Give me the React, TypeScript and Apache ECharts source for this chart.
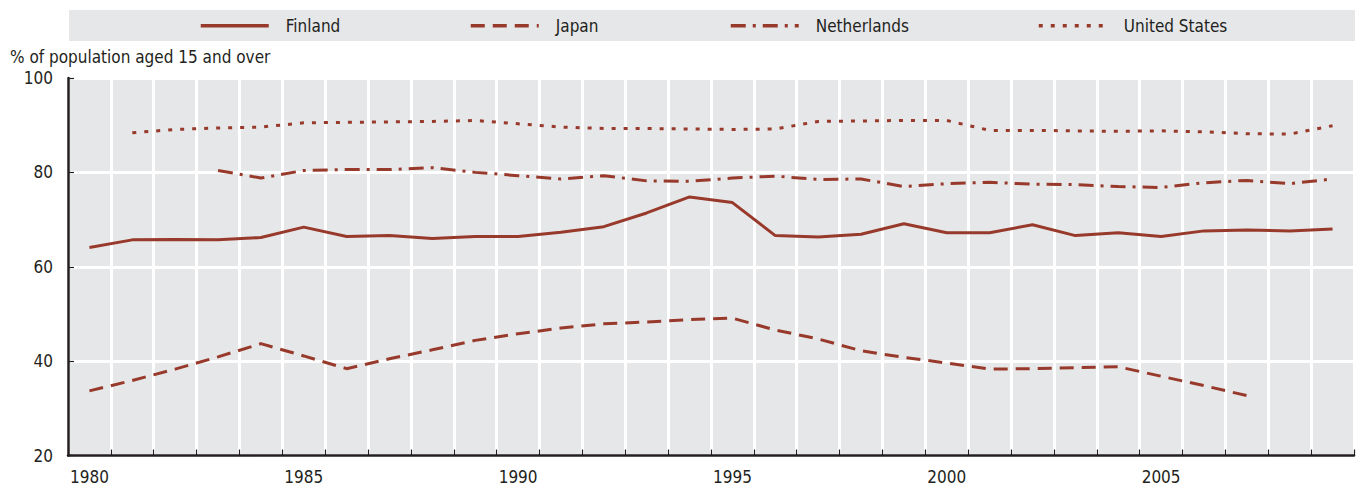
import React, { useEffect, useRef } from "react";
import * as echarts from "echarts";

const years = [
  "1980", "1981", "1982", "1983", "1984", "1985", "1986", "1987", "1988", "1989",
  "1990", "1991", "1992", "1993", "1994", "1995", "1996", "1997", "1998", "1999",
  "2000", "2001", "2002", "2003", "2004", "2005", "2006", "2007", "2008", "2009",
];

const finland = [
  64.1, 65.7, 65.8, 65.7, 66.2, 68.4, 66.4, 66.6, 66.0, 66.4,
  66.4, 67.3, 68.5, 71.4, 74.8, 73.6, 66.6, 66.3, 66.9, 69.1,
  67.2, 67.2, 68.9, 66.6, 67.2, 66.4, 67.6, 67.8, 67.6, 68.0,
];
const japan = [
  33.7, 35.9, 38.3, 40.9, 43.7, 41.1, 38.4, 40.5, 42.4, 44.4,
  45.8, 47.0, 47.9, 48.3, 48.8, 49.1, 46.6, 44.7, 42.2, 40.8,
  39.6, 38.3, 38.4, 38.6, 38.8, 36.8, 34.8, 32.7, null, null,
];
const netherlands = [
  null, null, null, 80.4, 78.8, 80.4, 80.6, 80.6, 81.0, 80.0,
  79.3, 78.6, 79.3, 78.2, 78.1, 78.8, 79.2, 78.5, 78.6, 77.0,
  77.6, 77.9, 77.5, 77.4, 77.0, 76.8, 77.8, 78.3, 77.6, 78.6,
];
const unitedStates = [
  null, 88.4, 89.1, 89.4, 89.6, 90.5, 90.6, 90.7, 90.8, 91.0,
  90.3, 89.6, 89.3, 89.3, 89.2, 89.1, 89.2, 90.8, 90.9, 91.0,
  91.0, 88.9, 88.9, 88.8, 88.7, 88.8, 88.6, 88.2, 88.1, 89.9,
];

const yTicks = [20, 40, 60, 80, 100];
const yTitle = "% of population aged 15 and over";

const FONT = "'Liberation Sans Narrow', 'DejaVu Sans Condensed', 'Liberation Sans', sans-serif";
const LINE = "#983a2b";
const TEXT = "#231f20";
const BG = "#e6e7e9";
const FS = 17;

export default function App() {
  const ref = useRef<HTMLDivElement>(null);
  useEffect(() => {
    if (!ref.current) return;
    const chart = echarts.init(ref.current, undefined, { renderer: "svg" });
    const mkSeries = (name: string, data: (number | null)[], type: any) => ({
      name,
      type: "line",
      data,
      symbol: "none",
      showSymbol: false,
      connectNulls: false,
      lineStyle: { color: LINE, width: 3, type, cap: "butt" },
      itemStyle: { color: LINE },
      z: 3,
    });
    const legendAt = (name: string, left: number) => ({
      data: [name],
      left,
      top: 17,
      itemWidth: 68,
      itemHeight: 22,
      itemGap: 0,
      padding: 0,
      selectedMode: false,
      itemStyle: { opacity: 0 },
      lineStyle: { width: 3.5 },
      textStyle: { fontFamily: FONT, fontSize: FS, color: TEXT, padding: [0, 0, 0, 12] },
    });
    chart.setOption({
      animation: false,
      backgroundColor: "#ffffff",
      textStyle: { fontFamily: FONT },
      graphic: [
        {
          type: "rect",
          z: -10,
          shape: { x: 69, y: 10, width: 1286, height: 31 },
          style: { fill: BG },
          silent: true,
        },
        {
          type: "text",
          left: 10,
          top: 48,
          style: { text: yTitle, fontFamily: FONT, fontSize: FS, fill: TEXT },
          silent: true,
        },
      ],
      legend: [
        legendAt("Finland", 199),
        legendAt("Japan", 469),
        legendAt("Netherlands", 729),
        legendAt("United States", 1037),
      ],
      grid: {
        left: 68,
        right: 8,
        top: 78,
        bottom: 31.5,
        show: true,
        backgroundColor: BG,
        borderWidth: 0,
      },
      xAxis: {
        type: "category",
        data: years,
        boundaryGap: true,
        axisLine: { show: true, lineStyle: { color: TEXT, width: 2.5 } },
        axisTick: { show: true, inside: true, length: 6, interval: 0, lineStyle: { color: TEXT, width: 1.2 } },
        axisLabel: { interval: 4, margin: 13, fontFamily: FONT, fontSize: FS, color: TEXT },
        splitLine: { show: true, interval: 0, lineStyle: { color: "#ffffff", width: 3 } },
      },
      yAxis: {
        type: "value",
        min: yTicks[0],
        max: yTicks[yTicks.length - 1],
        interval: 20,
        axisLine: { show: true, lineStyle: { color: TEXT, width: 2.5 } },
        axisTick: { show: true, inside: true, length: 6, lineStyle: { color: TEXT, width: 1.2 } },
        axisLabel: { margin: 15, fontFamily: FONT, fontSize: FS, color: TEXT },
        splitLine: { show: true, lineStyle: { color: "#ffffff", width: 3 } },
      },
      series: [
        mkSeries("Finland", finland, "solid"),
        mkSeries("Japan", japan, [14, 8]),
        mkSeries("Netherlands", netherlands, [15, 7, 3, 7]),
        mkSeries("United States", unitedStates, [4, 8]),
      ],
    });
    return () => chart.dispose();
  }, []);
  return (
    <div
      ref={ref}
      style={{ position: "fixed", left: 0, top: 0, width: 1362, height: 487 }}
    />
  );
}
